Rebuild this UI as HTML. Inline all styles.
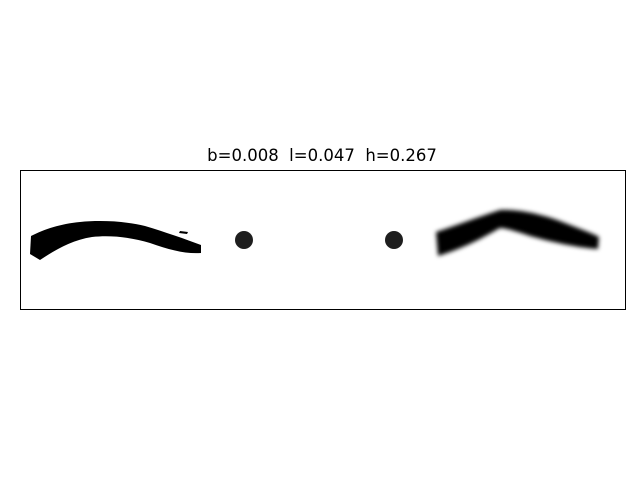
<!DOCTYPE html>
<html><head><meta charset="utf-8"><style>body{margin:0;background:#fff}</style></head><body>
<svg width="640" height="480" viewBox="0 0 640 480">
<defs><filter id="bl" x="-10%" y="-30%" width="120%" height="160%"><feGaussianBlur stdDeviation="2.2"/></filter></defs>
<rect width="640" height="480" fill="#fff"/>
<text x="322" y="161" text-anchor="middle" style="white-space:pre" font-family="DejaVu Sans, Liberation Sans, sans-serif" font-size="16.5">b=0.008  l=0.047  h=0.267</text>
<rect x="20.5" y="170.5" width="605" height="139" fill="none" stroke="#000" stroke-width="1"/>
<path d="M31,236 C45,229 60,224 80,222 C100,220 125,221 145,226 C165,232 185,239 201,245 L201,253 C185,254 170,250 150,243 C130,237 110,235 92,237 C72,240 55,250 40,260 L30,254 Z" fill="#000"/>
<path d="M180,231 L188,232 L187,234 L179,233 Z" fill="#000"/>
<circle cx="244" cy="240" r="9" fill="#1e1e1e"/>
<circle cx="394" cy="240" r="9" fill="#1e1e1e"/>
<path filter="url(#bl)" d="M436,232 C455,226 475,218 500,210 C520,209 545,215 565,223 C580,229 592,233 599,237 L598,249 C580,248 555,243 530,236 C515,231 505,228 500,228 C485,236 470,246 438,256 Z" fill="#000"/>
</svg>
</body></html>
